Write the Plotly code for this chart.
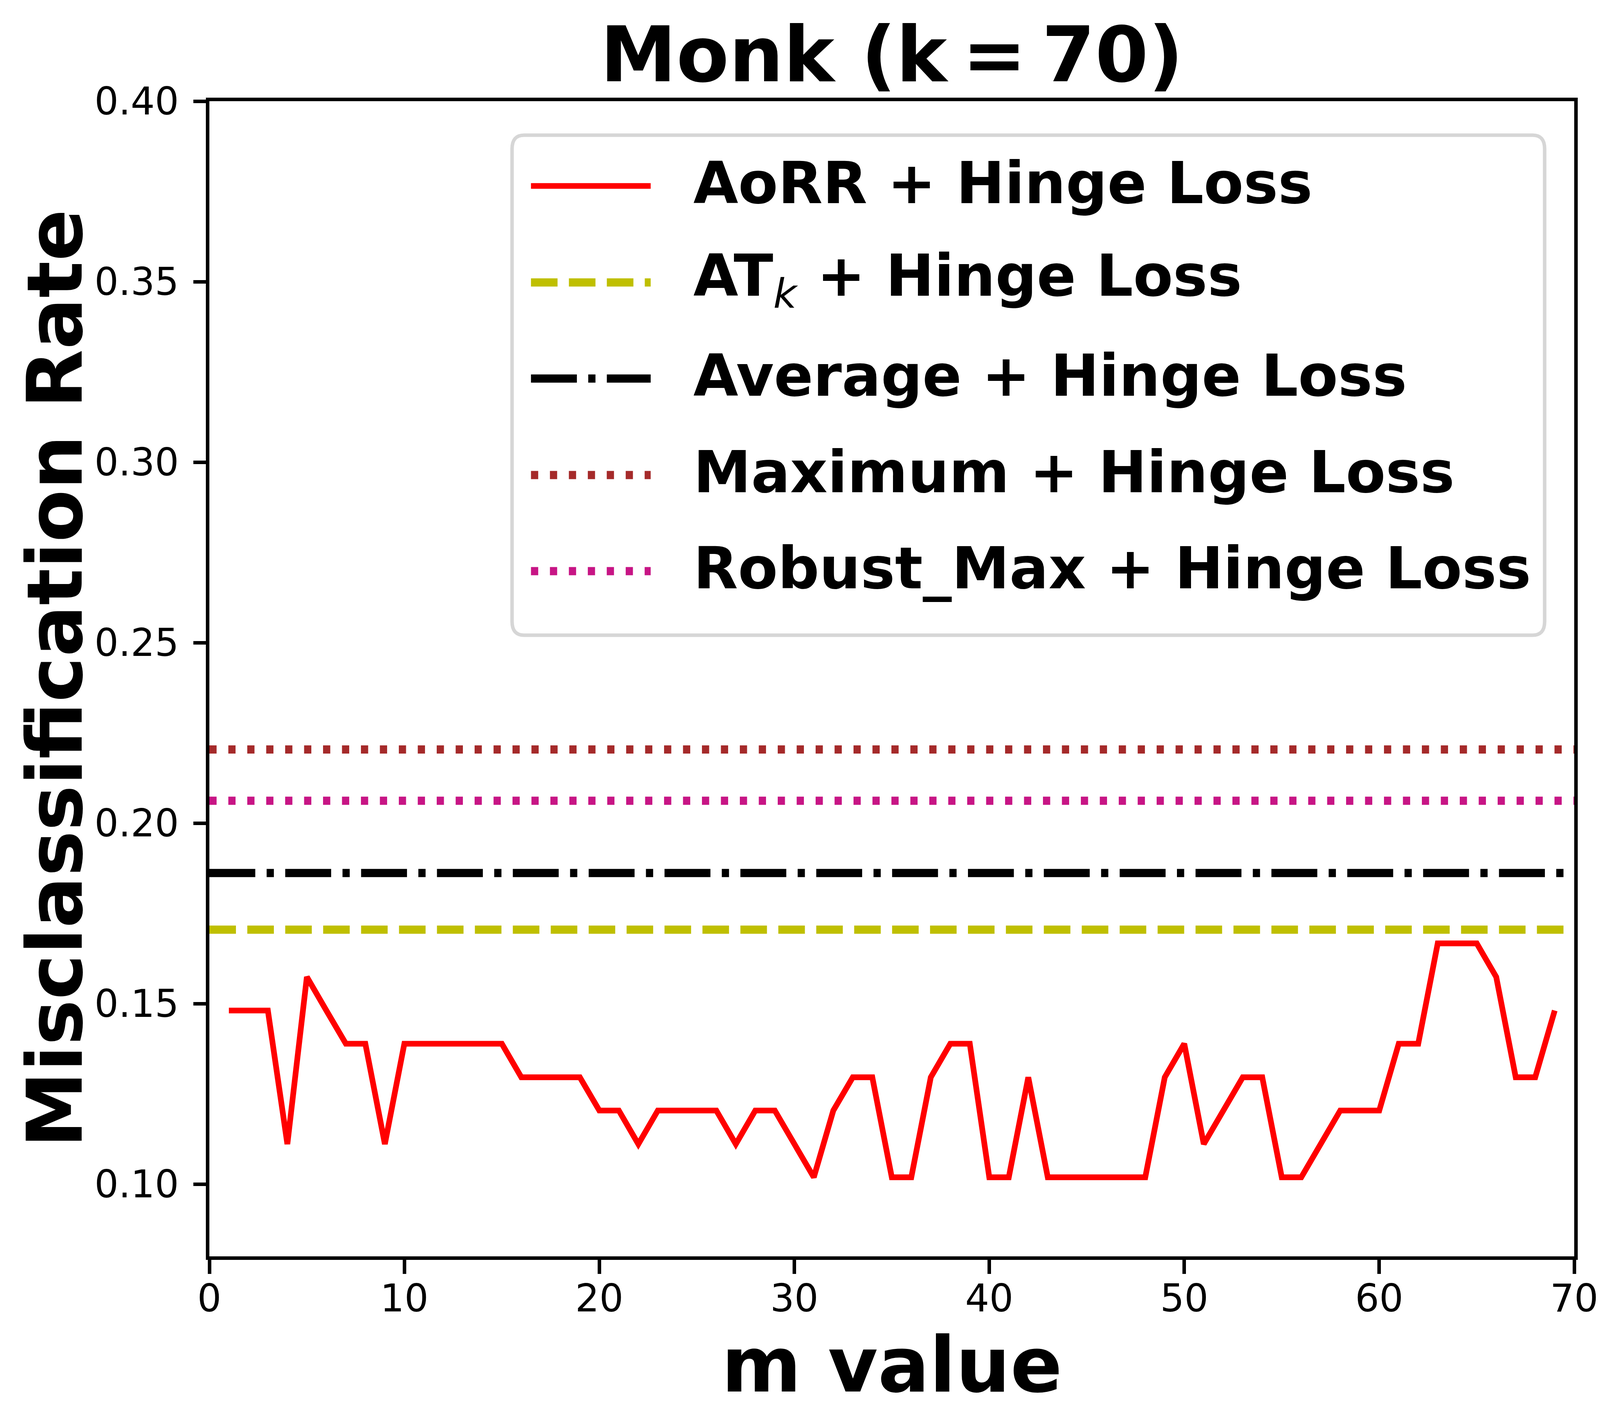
import plotly.graph_objects as go

# m values and misclassification rates
m_values = list(range(1, 70))
aorr_hinge = [
    0.1481, 0.1481, 0.1481, 0.1111, 0.1574, 0.1481, 0.1389, 0.1389, 0.1111, 0.1389,
    0.1389, 0.1389, 0.1389, 0.1389, 0.1389, 0.1296, 0.1296, 0.1296, 0.1296, 0.1204,
    0.1204, 0.1111, 0.1204, 0.1204, 0.1204, 0.1204, 0.1111, 0.1204, 0.1204, 0.1111,
    0.1019, 0.1204, 0.1296, 0.1296, 0.1019, 0.1019, 0.1296, 0.1389, 0.1389, 0.1019,
    0.1019, 0.1296, 0.1019, 0.1019, 0.1019, 0.1019, 0.1019, 0.1019, 0.1296, 0.1389,
    0.1111, 0.1204, 0.1296, 0.1296, 0.1019, 0.1019, 0.1111, 0.1204, 0.1204, 0.1204,
    0.1389, 0.1389, 0.1667, 0.1667, 0.1667, 0.1574, 0.1296, 0.1296, 0.1481,
]
x_span = [0, 70]
atk_hinge = 0.1705
average_hinge = 0.1862
maximum_hinge = 0.2204
robust_max_hinge = 0.2062

x_ticks = list(range(0, 71, 10))
y_ticks = [0.10, 0.15, 0.20, 0.25, 0.30, 0.35, 0.40]

legend_labels = [
    "AoRR + Hinge Loss",
    "AT<sub><span style='font-weight:normal'><i>k</i></span></sub> + Hinge Loss",
    "Average + Hinge Loss",
    "Maximum + Hinge Loss",
    "Robust_Max + Hinge Loss",
]

FONT = "DejaVu Sans"
# the browser page is only 4096 px wide, so the 4638 px wide layout is
# squeezed horizontally to fit, heights stay as they are
W, H = 4096, 3617
SX = W / 4638
L, R, T, B = 598, 4566, 251, 3208   # plot area in reference pixels


def px(x):
    return (x - L) / (R - L)


def py(y):
    return 1 - (y - T) / (B - T)


def dash(*lens):
    return ",".join(f"{v * SX:.1f}px" for v in lens)


styles = [
    dict(color="#ff0000", width=14.6, dash="solid"),
    dict(color="#bfbf00", width=21, dash=dash(77, 33)),
    dict(color="#000000", width=21, dash=dash(133, 33, 21, 33)),
    dict(color="#a52a2a", width=21, dash=dash(21, 34)),
    dict(color="#c71585", width=21, dash=dash(21, 34)),
]

fig = go.Figure()
fig.add_trace(go.Scatter(x=m_values, y=aorr_hinge, mode="lines", line=styles[0]))
for val, st in zip([atk_hinge, average_hinge, maximum_hinge, robust_max_hinge], styles[1:]):
    fig.add_trace(go.Scatter(x=x_span, y=[val, val], mode="lines", line=st))

tick_fs = 110 * SX
label_fs = 222 * SX
legend_fs = 168 * SX
axis_common = dict(
    showgrid=False, zeroline=False, showline=True, linecolor="black", linewidth=8.5,
    mirror=True, ticks="outside", tickwidth=8.5, tickcolor="black",
    tickfont=dict(family=FONT, size=tick_fs, color="black"),
)
fig.update_xaxes(range=[0, 70], tickvals=x_ticks, ticklen=36, ticklabelstandoff=-20, **axis_common)
fig.update_yaxes(range=[0.08, 0.40], tickvals=y_ticks, tickformat=".2f",
                 ticklen=36 * SX, ticklabelstandoff=18, **axis_common)

bold = dict(family=FONT, size=label_fs, color="black", weight="bold")
k = 0.415   # text box middle sits this many em above the baseline
annotations = [
    dict(text="m value", x=0.5, y=py(3567 - k * label_fs), xref="paper", yref="paper",
         xanchor="center", yanchor="middle", showarrow=False, font=bold),
    dict(text="Misclassification Rate", x=px(241 - k * label_fs / SX), y=0.5,
         xref="paper", yref="paper", xanchor="center", yanchor="middle",
         textangle=-90, showarrow=False, font=bold),
]

# legend drawn by hand so the line samples keep their real length
shapes = []
bx0, bx1, by0, by1 = px(1478), px(4480), py(1618), py(338)
rx, ry = 35 / (R - L), 35 / (B - T)
path = (f"M{bx0+rx},{by1} L{bx1-rx},{by1} Q{bx1},{by1} {bx1},{by1-ry} "
        f"L{bx1},{by0+ry} Q{bx1},{by0} {bx1-rx},{by0} L{bx0+rx},{by0} "
        f"Q{bx0},{by0} {bx0},{by0+ry} L{bx0},{by1-ry} Q{bx0},{by1} {bx0+rx},{by1} Z")
shapes.append(dict(type="path", path=path, xref="paper", yref="paper",
                   fillcolor="white", line=dict(color="#d6d6d6", width=9), layer="above"))
rows = [468, 715, 961, 1208, 1454]
for row, st, lab in zip(rows, styles, legend_labels):
    shapes.append(dict(type="line", xref="paper", yref="paper", x0=px(1533), x1=px(1881),
                       y0=py(row), y1=py(row), line=st, layer="above"))
    mid = row + 0.3645 * legend_fs - k * legend_fs
    annotations.append(dict(text=lab, x=px(2003), y=py(mid), xref="paper", yref="paper",
                            xanchor="left", yanchor="middle", showarrow=False,
                            font=dict(family=FONT, size=legend_fs, color="black", weight="bold")))

fig.update_layout(
    width=W, height=H,
    margin=dict(l=L * SX, r=W - R * SX, t=T, b=H - B),
    paper_bgcolor="white", plot_bgcolor="white",
    showlegend=False,
    title=dict(text="Monk (k\u2009=\u200970)", x=0.5, xref="paper", xanchor="center",
               y=1 - (213 - k * label_fs) / H, yanchor="middle", font=bold),
    annotations=annotations, shapes=shapes,
)

fig.write_html("out.html")
